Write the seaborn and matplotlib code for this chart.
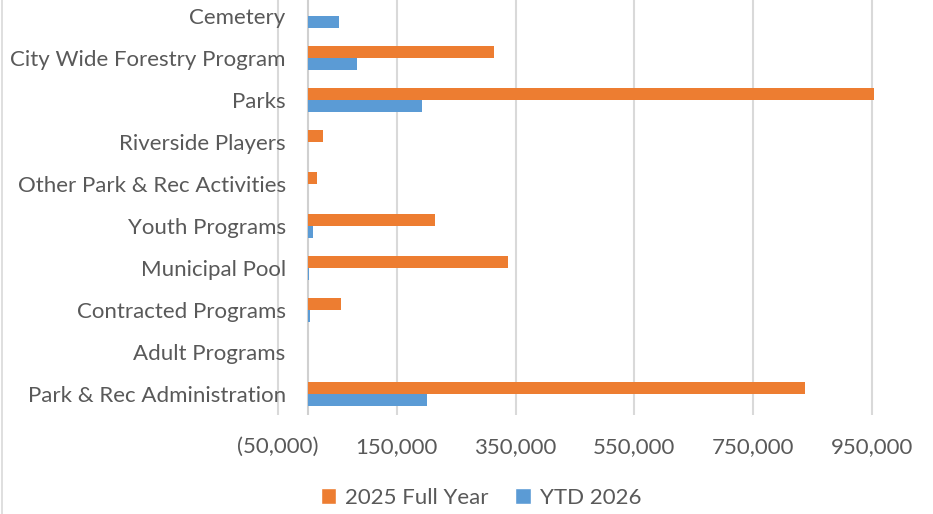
import numpy as np
import pandas as pd
import matplotlib
matplotlib.use("Agg")
import matplotlib.pyplot as plt
from matplotlib.ticker import FuncFormatter
from matplotlib.patches import Patch
from matplotlib.lines import Line2D
import seaborn as sns

# date
categorii = ['Cemetery', 'City Wide Forestry Program', 'Parks', 'Riverside Players',
             'Other Park & Rec Activities', 'Youth Programs', 'Municipal Pool',
             'Contracted Programs', 'Adult Programs', 'Park & Rec Administration']
full_2025 = [0, 313000, 953000, 26400, 16300, 215000, 337000, 55600, 800, 837000]
ytd_2026 = [52200, 83000, 192500, 0, 0, 9000, 3000, 3200, 0, 201500]
serii = ['2025 Full Year', 'YTD 2026']
culori = {'2025 Full Year': '#ED7D31', 'YTD 2026': '#5B9BD5'}
x_ticks = [-50000, 150000, 350000, 550000, 750000, 950000]

df = pd.DataFrame({
    'Categorie': categorii * 2,
    'Valoare': full_2025 + ytd_2026,
    'Serie': [serii[0]] * len(categorii) + [serii[1]] * len(categorii),
})

sns.set_style("white")
plt.rcParams['font.family'] = ['Lato', 'DejaVu Sans']
text_col = '#595959'
fs = 16

W, H = 933, 514
fig = plt.figure(figsize=(W / 100, H / 100), dpi=100)
# zona graficului: stanga la x~276, sus putin in afara imaginii, jos la y=415
ax = fig.add_axes([276 / W, 1 - 415 / H, 1 - 276 / W, 420 / H])

sns.barplot(data=df, x='Valoare', y='Categorie', hue='Serie', order=categorii,
            hue_order=serii, palette=culori, orient='h', width=0.56,
            saturation=1, linewidth=0, ax=ax, legend=False, zorder=3)

ax.set_xlim(-53400, 1053000)
ax.set_ylim(9.5, -0.5)
ax.set_xticks(x_ticks)
ax.xaxis.set_major_formatter(FuncFormatter(
    lambda v, p: f"({abs(v):,.0f})" if v < 0 else f"{v:,.0f}"))
ax.grid(axis='x', color='#D9D9D9', lw=1.5, zorder=0)
ax.axvline(0, color='#D0D0D0', lw=1.5, zorder=2)
for s in ax.spines.values():
    s.set_visible(False)
ax.tick_params(axis='both', length=0, labelsize=fs, labelcolor=text_col)
ax.tick_params(axis='y', pad=-7)
ax.tick_params(axis='x', pad=16)
ax.set_xlabel('')
ax.set_ylabel('')

handles = [Patch(facecolor=culori[s], label=s) for s in serii]
leg = fig.legend(handles=handles, loc='center', bbox_to_anchor=(481 / W, 1 - 498 / H),
                 ncol=2, frameon=False, fontsize=fs, handlelength=0.7, handleheight=0.7,
                 handletextpad=0.4, columnspacing=1.2)
for t in leg.get_texts():
    t.set_color(text_col)

# chenarul din stanga al graficului
fig.add_artist(Line2D([2 / W, 2 / W], [0, 1], color='#D9D9D9', lw=1.2))

fig.savefig('out.png', dpi=100)
